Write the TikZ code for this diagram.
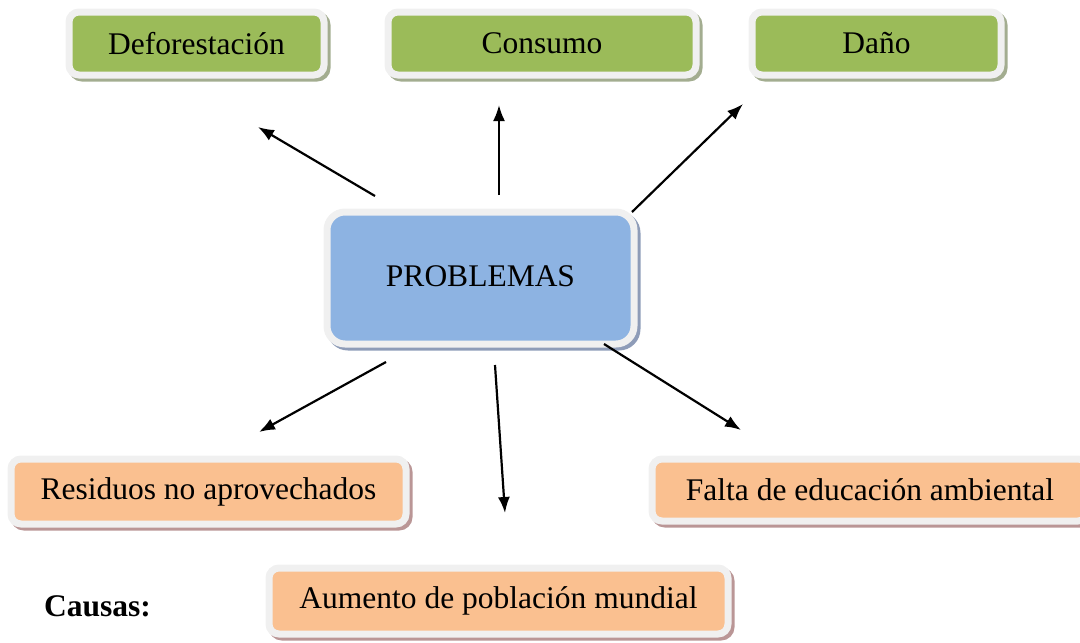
\documentclass[tikz,border=0pt]{standalone}
\usepackage{fontspec}
\setmainfont{Liberation Serif}
\usetikzlibrary{positioning, calc, arrows.meta, shadows}

\definecolor{cardframe}{HTML}{F0F0F0}
\definecolor{effectgreen}{HTML}{9BBB59}
\definecolor{effectshadow}{HTML}{A3AD90}
\definecolor{coreblue}{HTML}{8DB3E2}
\definecolor{coreshadow}{HTML}{8E9CB8}
\definecolor{causeorange}{HTML}{FAC090}
\definecolor{causeshadow}{HTML}{BA9696}

\begin{document}
\begin{tikzpicture}[
    x=1pt, y=-1pt,
    % Styling
    card/.style={
        draw=cardframe,
        line width=7pt,
        rounded corners=10pt,
        inner sep=0pt,
        outer sep=0pt,
        minimum height=63pt,
        font=\fontsize{31.5}{36}\selectfont
    },
    % Style for the effects (top row)
    effect box/.style={
        card,
        fill=effectgreen,
        drop shadow={shadow xshift=3pt, shadow yshift=-3pt, opacity=1,
            fill=effectshadow, draw=effectshadow, line width=7pt}
    },
    % Style for the central problem
    core box/.style={
        card,
        fill=coreblue,
        rounded corners=18pt,
        drop shadow={shadow xshift=3pt, shadow yshift=-3pt, opacity=1,
            fill=coreshadow, draw=coreshadow, line width=7pt}
    },
    % Style for the causes (bottom row)
    cause box/.style={
        card,
        fill=causeorange,
        drop shadow={shadow xshift=3pt, shadow yshift=-3pt, opacity=1,
            fill=causeshadow, draw=causeshadow, line width=7pt}
    },
    arrow style/.style={
        -{Latex[length=16pt, width=12pt]},
        line width=2.2pt,
        color=black
    }
]
\useasboundingbox (0,0) rectangle (1080,643);

% --- Effects ---
\node[effect box, minimum width=255pt] (defo) at (196.5,43.5) {\raisebox{-2pt}{Deforestación}};
\node[effect box, minimum width=308pt] (cons) at (542,43.5) {\raisebox{-3pt}{Consumo}};
\node[effect box, minimum width=249pt] (dano) at (876.5,43.5) {\raisebox{-2pt}{Daño}};

% --- Problem ---
\node[core box, minimum width=307pt, minimum height=132pt] (prob) at (480.5,278)
    {\raisebox{4pt}{PROBLEMAS}};

% --- Causes ---
\node[cause box, minimum width=395pt, minimum height=65pt] (resid) at (208.5,491.5) {Residuos no aprovechados};
\node[cause box, minimum width=436pt, minimum height=62pt] (falta) at (870,490) {Falta de educación ambiental};
\node[cause box, minimum width=459pt, minimum height=66pt] (aum) at (498.5,601) {Aumento de población mundial};

\node[font=\fontsize{31.5}{36}\selectfont\bfseries, anchor=west, inner sep=0pt] (causas) at (44,606) {Causas:};

% --- Arrows out of the problem ---
\draw[arrow style] ([shift={(-105.5,-16)}]prob.north) -- ([shift={(61.5,52)}]defo.south);
\draw[arrow style] ([shift={(18.5,-17)}]prob.north) -- ([shift={(-43,30)}]cons.south);
\draw[arrow style] ([shift={(-2,0)}]prob.north east) -- ([shift={(-9,29)}]dano.south west);
\draw[arrow style] ([shift={(-94.5,18)}]prob.south) -- ([shift={(50.5,-27)}]resid.north);
\draw[arrow style] ([shift={(14.5,21)}]prob.south) -- ([shift={(6.5,-55)}]aum.north);
\draw[arrow style] ([shift={(123.5,0)}]prob.south) -- ([shift={(-129,-29)}]falta.north);

\end{tikzpicture}
\end{document}
